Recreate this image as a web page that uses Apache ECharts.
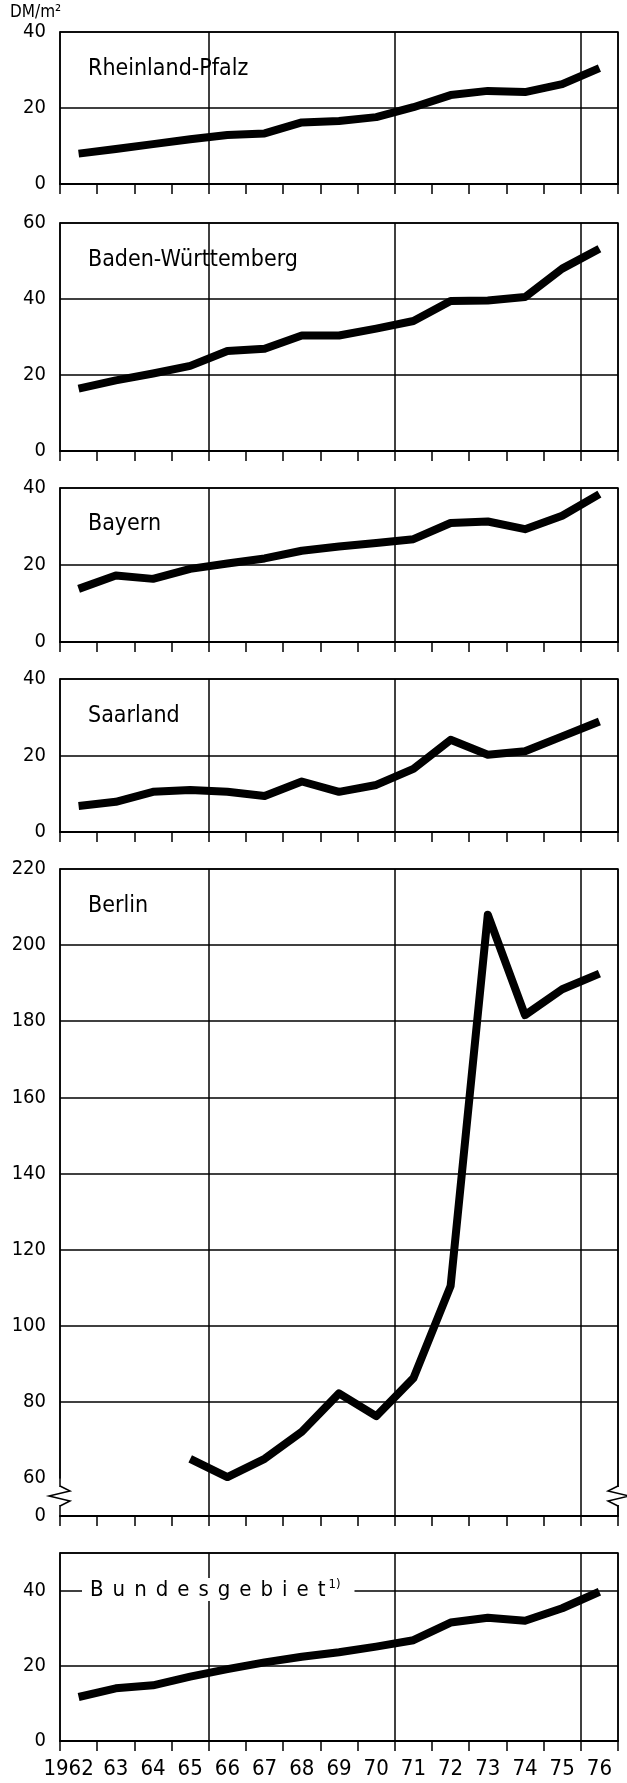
<!DOCTYPE html>
<html>
<head>
<meta charset="utf-8">
<title>Baulandpreise</title>
<script src="https://cdn.jsdelivr.net/npm/echarts@6.0.0/dist/echarts.min.js"></script>
<style>
  html, body { margin: 0; padding: 0; background: #fff; }
  #main { width: 627px; height: 1783px; }
</style>
</head>
<body>
<div id="main"></div>
<script>
// Jahre (x-Achse)
const years = ['1962', '63', '64', '65', '66', '67', '68', '69', '70', '71', '72', '73', '74', '75', '76'];

// DM/m2 je Land
const rheinlandPfalz = [8.0, 9.2, 10.5, 11.8, 12.9, 13.3, 16.2, 16.6, 17.6, 20.2, 23.4, 24.5, 24.2, 26.3, 30.5];
const badenWuerttemberg = [16.4, 18.6, 20.4, 22.4, 26.3, 26.9, 30.4, 30.4, 32.2, 34.2, 39.5, 39.6, 40.5, 48.0, 53.2];
const bayern = [13.8, 17.3, 16.4, 19.0, 20.4, 21.7, 23.7, 24.8, 25.7, 26.7, 30.9, 31.3, 29.3, 32.8, 38.4];
const saarland = [6.8, 7.9, 10.5, 11.0, 10.5, 9.4, 13.2, 10.5, 12.3, 16.5, 24.1, 20.2, 21.1, 25.0, 28.9];
const berlin = [null, null, null, 65.0, 60.2, 65.0, 72.1, 82.2, 76.2, 86.2, 110.4, 208.0, 181.6, 188.4, 192.5];
const bundesgebiet = [11.7, 14.0, 14.8, 17.1, 19.1, 20.9, 22.4, 23.6, 25.1, 26.8, 31.5, 32.8, 32.0, 35.3, 39.7];

const FONT = '"Liberation Sans Narrow", "DejaVu Sans Condensed", "Roboto Condensed", "Liberation Sans", sans-serif';

const panels = [
  { name: 'Rheinland-Pfalz', data: rheinlandPfalz, top: 32, bottom: 184, max: 40, nameTop: 57 },
  { name: 'Baden-Württemberg', data: badenWuerttemberg, top: 223, bottom: 451, max: 60, nameTop: 248 },
  { name: 'Bayern', data: bayern, top: 488, bottom: 642, max: 40, nameTop: 512 },
  { name: 'Saarland', data: saarland, top: 679, bottom: 832, max: 40, nameTop: 704 },
  { name: 'Berlin', data: berlin, top: 869, bottom: 1516, max: 220, nameTop: 894 },
  { name: 'Bundesgebiet', data: bundesgebiet, top: 1553, bottom: 1741, max: 50, nameTop: 1578 }
];

let myChart = echarts.init(document.getElementById('main'), null, { renderer: 'canvas' });

const grid = [], xAxis = [], yAxis = [], series = [];
const title = [{
  text: 'DM/m²', left: 10, top: 4, padding: 0,
  textStyle: { fontFamily: FONT, fontSize: 17, fontWeight: 'normal', color: '#000' }
}];

// gesperrter Schriftzug "Bundesgebiet"
const spaced = 'Bundesgebiet'.split('').map(c => '{a|' + c + '}').join('{s| }');

panels.forEach((p, i) => {
  const last = i === panels.length - 1;
  grid.push({
    left: 60, width: 558, top: p.top, height: p.bottom - p.top,
    show: true, borderColor: '#000', borderWidth: 1.5,
    containLabel: false, outerBoundsMode: 'none'
  });
  xAxis.push({
    gridIndex: i,
    type: 'category',
    data: years,
    boundaryGap: true,
    axisLine: { show: true, lineStyle: { color: '#000', width: 2 } },
    axisTick: { show: true, interval: 0, length: 10, lineStyle: { color: '#000', width: 1.5 } },
    axisLabel: {
      show: last,
      interval: 0,
      margin: 17,
      color: '#000',
      fontFamily: FONT,
      fontSize: 22,
      formatter: (v, idx) => idx === 0 ? '{f|' + v + '}' : v,
      rich: { f: { fontFamily: FONT, fontSize: 22, color: '#000', padding: [0, 20, 0, 0] } }
    },
    // vertikale Linien nur zwischen 65|66, 70|71, 75|76
    splitLine: {
      show: true,
      interval: (idx) => idx === 4 || idx === 9 || idx === 14,
      lineStyle: { color: '#000', width: 1.5 }
    }
  });
  const y = {
    gridIndex: i,
    type: 'value',
    min: 0,
    max: p.max,
    interval: 20,
    axisLine: { show: true, lineStyle: { color: '#000', width: 1.5 } },
    axisTick: { show: false },
    axisLabel: {
      color: '#000', fontFamily: FONT, fontSize: 20, margin: 14,
      showMaxLabel: p.max % 20 === 0
    },
    splitLine: { show: true, lineStyle: { color: '#000', width: 1.5 } }
  };
  if (p.name === 'Berlin') {
    // unterbrochene Achse zwischen 0 und 60
    y.breaks = [{ start: 0, end: 60, gap: '5.9%' }];
    y.breakArea = { show: false };
  }
  yAxis.push(y);
  series.push({
    type: 'line',
    xAxisIndex: i,
    yAxisIndex: i,
    data: p.data,
    symbol: 'none',
    connectNulls: false,
    silent: true,
    lineStyle: { color: '#000', width: 8, cap: 'butt', join: 'round' }
  });
  if (last) {
    title.push({
      text: spaced + '{b|1)}',
      left: 82, top: p.nameTop, padding: [0, 14, 0, 8],
      backgroundColor: '#fff',
      textStyle: {
        rich: {
          a: { fontFamily: FONT, fontSize: 22, fontWeight: 'normal', color: '#000', lineHeight: 24 },
          s: { fontFamily: FONT, fontSize: 22, fontWeight: 'normal', width: 9, lineHeight: 24 },
          b: { fontFamily: FONT, fontSize: 13, fontWeight: 'normal', color: '#000', verticalAlign: 'top', lineHeight: 24, padding: [0, 0, 8, 3] }
        }
      }
    });
  } else {
    title.push({
      text: p.name, left: 88, top: p.nameTop, padding: 0,
      textStyle: { fontFamily: FONT, fontSize: 23, fontWeight: 'normal', color: '#000', lineHeight: 24 }
    });
  }
});

// Bruchzeichen an der Berlin-Achse
const zig = (x0, dir) => [[x0, 1486], [x0 + 10 * dir, 1491], [x0 - 11 * dir, 1496], [x0 + 10 * dir, 1501], [x0, 1506]];

myChart.setOption({
  animation: false,
  backgroundColor: '#fff',
  title: title,
  grid: grid,
  xAxis: xAxis,
  yAxis: yAxis,
  series: series,
  graphic: [
    { type: 'rect', z: 100, shape: { x: 55, y: 1487, width: 10, height: 18 }, style: { fill: '#fff' } },
    { type: 'rect', z: 100, shape: { x: 613, y: 1487, width: 10, height: 18 }, style: { fill: '#fff' } },
    { type: 'polyline', z: 101, shape: { points: zig(60, 1) }, style: { stroke: '#000', lineWidth: 1.5, fill: null } },
    { type: 'polyline', z: 101, shape: { points: zig(618, -1) }, style: { stroke: '#000', lineWidth: 1.5, fill: null } }
  ]
});
</script>
</body>
</html>
